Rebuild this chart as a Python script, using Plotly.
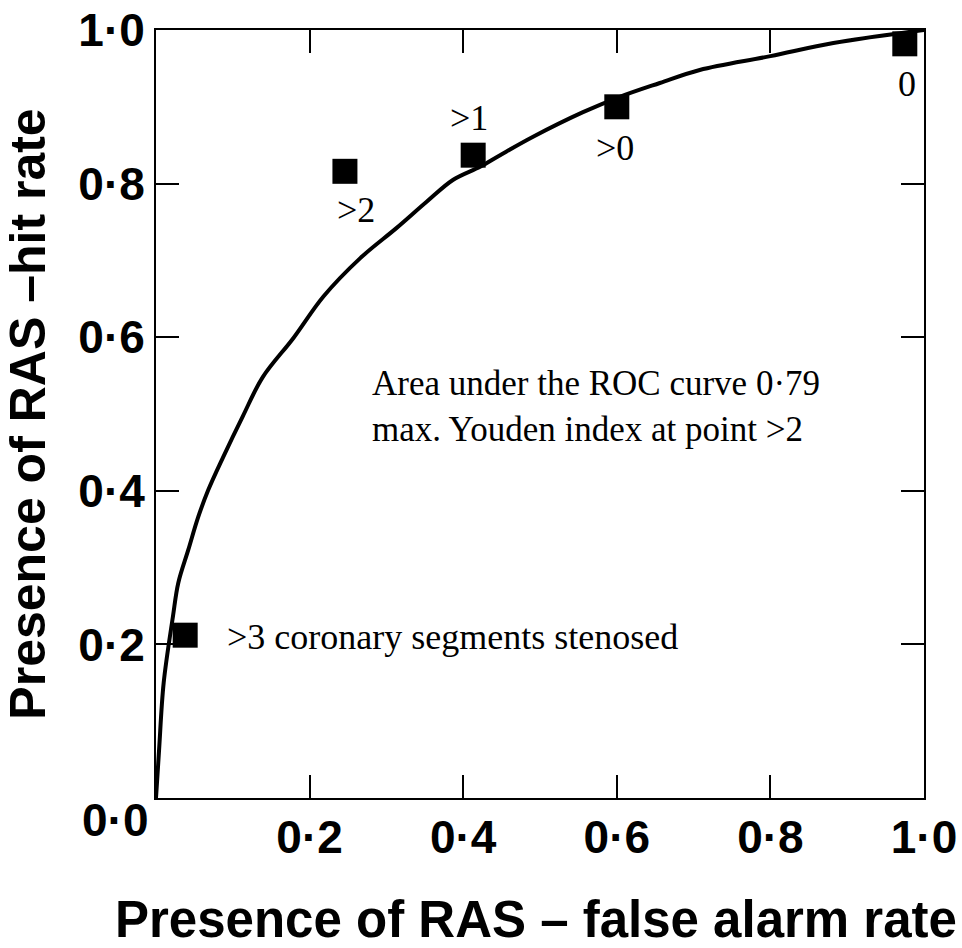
import plotly.graph_objects as go

# ROC operating points (false alarm rate, hit rate)
point_fpr = [0.038, 0.246, 0.413, 0.600, 0.975]
point_tpr = [0.212, 0.816, 0.837, 0.900, 0.982]
point_labels = [">3 coronary segments stenosed", ">2", ">1", ">0", "0"]
label_x = [0.090, 0.260, 0.408, 0.598, 0.978]
label_y = [0.210, 0.766, 0.885, 0.846, 0.930]

# Fitted ROC curve
curve_x = [0.0, 0.004, 0.010, 0.022, 0.029, 0.042, 0.055, 0.068, 0.087, 0.113, 0.139,
           0.179, 0.218, 0.266, 0.313, 0.352, 0.387, 0.422, 0.448, 0.491, 0.556, 0.604,
           0.656, 0.708, 0.800, 0.882, 1.0]
curve_y = [0.0, 0.0625, 0.150, 0.236, 0.280, 0.323, 0.366, 0.401, 0.443, 0.497, 0.548,
           0.599, 0.653, 0.703, 0.742, 0.776, 0.805, 0.822, 0.837, 0.861, 0.893, 0.913,
           0.931, 0.948, 0.966, 0.983, 1.0]

x_tickvals = [0.2, 0.4, 0.6, 0.8, 1.0]
x_ticktext = ["0·2", "0·4", "0·6", "0·8", "1·0"]
y_tickvals = [0.2, 0.4, 0.6, 0.8, 1.0]
y_ticktext = ["0·2", "0·4", "0·6", "0·8", "1·0"]
origin_label = "0·0"
x_title = "Presence of RAS – false alarm rate"
y_title = "Presence of RAS –hit rate"
note_text = "Area under the ROC curve 0·79<br>max. Youden index at point >2"

SANS = "Liberation Sans, Arial, sans-serif"
SERIF = "Liberation Serif, Times New Roman, serif"

fig = go.Figure()
fig.add_trace(go.Scatter(x=curve_x, y=curve_y, mode="lines",
                         line=dict(color="black", width=4, shape="spline", smoothing=1.0),
                         hoverinfo="skip", showlegend=False))
fig.add_trace(go.Scatter(x=point_fpr, y=point_tpr, mode="markers",
                         marker=dict(symbol="square", size=25, color="black",
                                     line=dict(width=0)),
                         showlegend=False))

for i, t in enumerate(point_labels):
    fig.add_annotation(x=label_x[i], y=label_y[i], text=t, showarrow=False,
                       xanchor="left" if i == 0 else "center", yanchor="middle",
                       font=dict(family=SERIF, size=36, color="black"))

fig.add_annotation(x=0.279, y=0.568, text=note_text, showarrow=False, align="left",
                   xanchor="left", yanchor="top",
                   font=dict(family=SERIF, size=35, color="black"))

fig.add_annotation(x=0, y=0, text=origin_label, showarrow=False,
                   xanchor="right", yanchor="middle", xshift=-6, yshift=-22,
                   font=dict(family=SANS, size=46, color="black", weight="bold"))

# x-axis title placed as paper annotation (below the tick labels)
fig.add_annotation(xref="paper", yref="paper", x=0.495, y=0, text=x_title,
                   showarrow=False, xanchor="center", yanchor="middle", yshift=-121,
                   font=dict(family=SANS, size=51, color="black", weight="bold"))

axis_common = dict(showgrid=False, zeroline=False, showline=True, linecolor="black",
                   linewidth=2, mirror="ticks", ticks="inside", ticklen=23,
                   tickwidth=2, tickcolor="black", range=[0, 1],
                   tickfont=dict(family=SANS, size=46, color="black", weight="bold"))

fig.update_xaxes(**axis_common, tickvals=x_tickvals, ticktext=x_ticktext,
                 ticklabelstandoff=-2)
fig.update_yaxes(**axis_common, tickvals=y_tickvals, ticktext=y_ticktext,
                 title=dict(text=y_title, standoff=18,
                            font=dict(family=SANS, size=50, color="black", weight="bold")))

fig.update_layout(width=962, height=948,
                  margin=dict(l=156, r=38, t=30, b=150, autoexpand=False),
                  paper_bgcolor="white", plot_bgcolor="white")

fig.write_html("out.html", config={"displayModeBar": False},
               post_script="document.body.style.margin='0';document.body.style.padding='0';")
